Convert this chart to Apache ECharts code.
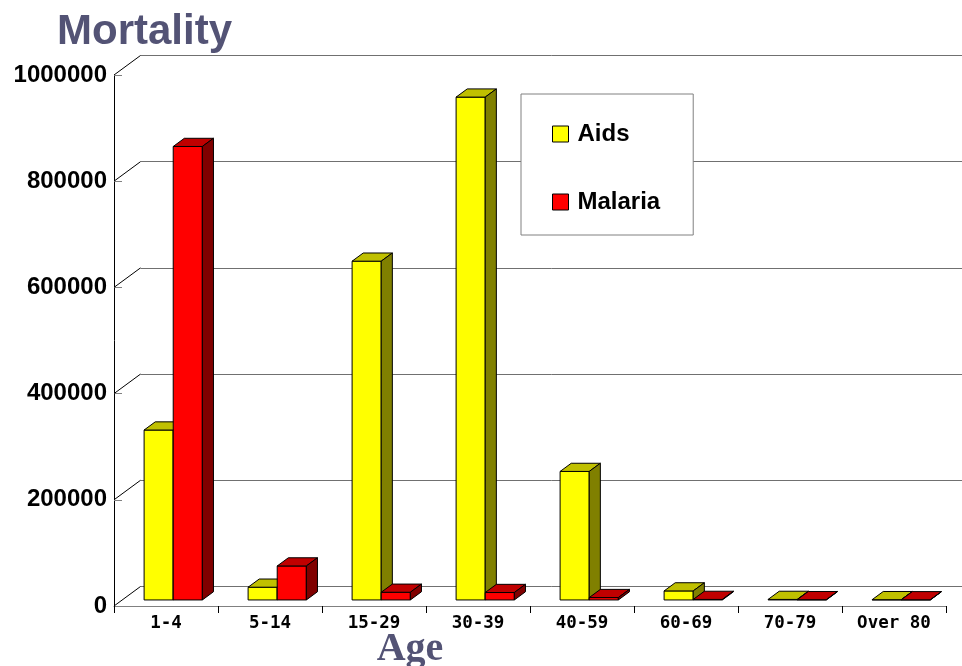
<!DOCTYPE html>
<html>
<head>
<meta charset="utf-8">
<script src="https://cdn.jsdelivr.net/npm/echarts@6/dist/echarts.min.js"></script>
<style>html,body{margin:0;padding:0;background:#fff}#c{width:962px;height:666px}</style>
</head>
<body>
<div id="c"></div>
<script>
const categories = ['1-4', '5-14', '15-29', '30-39', '40-59', '60-69', '70-79', 'Over 80'];
const aidsValues = [320000, 24000, 638000, 947000, 242000, 17000, 1000, 500];
const malariaValues = [854000, 64000, 14500, 14000, 4500, 1000, 500, 300];
const yTicks = [0, 200000, 400000, 600000, 800000, 1000000];

const DEPTH_X = 26.5, DEPTH_Y = -19.5;   // floor depth in pixels
const F0 = 0.31, F1 = 0.73;              // bar depth (fraction of floor)
const BAR_FRAC = 0.28;

function barRenderer(front, top, side, leftSide) {
  return function (params, api) {
    const idx = api.value(0), val = api.value(1);
    const base = api.coord([idx, 0]);
    const tp = api.coord([idx, val]);
    const band = api.size([1, 0])[0];
    const bw = band * BAR_FRAC;
    const x0 = leftSide ? base[0] - 1 - bw : base[0] - 1;
    const ox0 = DEPTH_X * F0, oy0 = DEPTH_Y * F0;
    const ox1 = DEPTH_X * F1, oy1 = DEPTH_Y * F1;
    const by = base[1], ty = tp[1];
    const st = { stroke: '#000', lineWidth: 1, lineJoin: 'round' };
    return {
      type: 'group',
      children: [
        { type: 'polygon', shape: { points: [[x0 + ox0, ty + oy0], [x0 + bw + ox0, ty + oy0], [x0 + bw + ox0, by + oy0], [x0 + ox0, by + oy0]] }, style: Object.assign({ fill: front }, st) },
        { type: 'polygon', shape: { points: [[x0 + ox0, ty + oy0], [x0 + bw + ox0, ty + oy0], [x0 + bw + ox1, ty + oy1], [x0 + ox1, ty + oy1]] }, style: Object.assign({ fill: top }, st) },
        { type: 'polygon', shape: { points: [[x0 + bw + ox0, ty + oy0], [x0 + bw + ox1, ty + oy1], [x0 + bw + ox1, by + oy1], [x0 + bw + ox0, by + oy0]] }, style: Object.assign({ fill: side }, st) }
      ]
    };
  };
}

const chart = echarts.init(document.getElementById('c'), null, { renderer: 'canvas' });
const titleColor = '#535375';
chart.setOption({
  animation: false,
  backgroundColor: '#fff',
  title: {
    text: 'Mortality', left: 52, top: 6,
    textStyle: { fontFamily: 'Liberation Sans', fontWeight: 'bold', fontSize: 42, color: titleColor }
  },
  graphic: [{
    type: 'text', x: 410, y: 650, style: {
      text: 'Age', align: 'center', verticalAlign: 'middle',
      font: 'bold 40px "Liberation Serif"', fill: titleColor
    }
  }],
  legend: {
    orient: 'vertical', left: 521, top: 94,
    padding: [28, 33, 21, 31], itemGap: 44,
    itemWidth: 16, itemHeight: 16,
    backgroundColor: '#fff', borderColor: '#808080', borderWidth: 1,
    data: [{ name: 'Aids', icon: 'rect' }, { name: 'Malaria', icon: 'rect' }],
    itemStyle: { borderColor: '#000', borderWidth: 1 },
    textStyle: { fontFamily: 'Liberation Sans', fontWeight: 'bold', fontSize: 24, color: '#000', lineHeight: 24, padding: [0, 0, 0, 4] }
  },
  grid: [
    { left: 114, right: 16, top: 75, bottom: 60 },
    { left: 140.5, right: 0, top: 55.5, bottom: 79.5 }
  ],
  xAxis: [
    {
      type: 'category', data: categories, gridIndex: 0,
      axisLine: { lineStyle: { color: '#808080', width: 1 } },
      axisTick: { show: true, length: 7, lineStyle: { color: '#000' } },
      axisLabel: { fontFamily: 'DejaVu Sans Mono', fontWeight: 'bold', fontSize: 17.5, color: '#000', margin: 8 }
    },
    { type: 'category', data: categories, gridIndex: 1, show: false }
  ],
  yAxis: [
    {
      type: 'value', min: 0, max: 1000000, interval: 200000, gridIndex: 0,
      axisLine: { show: true, lineStyle: { color: '#000', width: 1 } },
      axisTick: { show: true, inside: true, length: 8, lineStyle: { color: '#808080' } },
      splitLine: { show: false },
      axisLabel: { fontFamily: 'Liberation Sans', fontWeight: 'bold', fontSize: 24, color: '#000', margin: 7, formatter: v => String(v) }
    },
    {
      type: 'value', min: 0, max: 1000000, interval: 200000, gridIndex: 1,
      axisLine: { show: false }, axisTick: { show: false }, axisLabel: { show: false },
      splitLine: { show: true, lineStyle: { color: '#707070', width: 1 } }
    }
  ],
  series: [
    {
      type: 'custom', name: 'walls', xAxisIndex: 0, yAxisIndex: 0, silent: true, clip: false,
      data: yTicks.map(v => [0, v]),
      renderItem: function (params, api) {
        const p = api.coord([0, api.value(1)]);
        const x = p[0] - api.size([1, 0])[0] / 2;
        return { type: 'line', shape: { x1: x, y1: p[1], x2: x + DEPTH_X, y2: p[1] + DEPTH_Y }, style: { stroke: '#000', lineWidth: 1 } };
      }
    },
    {
      type: 'custom', name: 'Aids', xAxisIndex: 0, yAxisIndex: 0, clip: false,
      itemStyle: { color: '#ffff00' },
      data: aidsValues.map((v, i) => [i, v]),
      encode: { x: 0, y: 1 },
      renderItem: barRenderer('#ffff00', '#c0c000', '#808000', true)
    },
    {
      type: 'custom', name: 'Malaria', xAxisIndex: 0, yAxisIndex: 0, clip: false,
      itemStyle: { color: '#ff0000' },
      data: malariaValues.map((v, i) => [i, v]),
      encode: { x: 0, y: 1 },
      renderItem: barRenderer('#ff0000', '#c00000', '#800000', false)
    }
  ]
});
</script>
</body>
</html>
